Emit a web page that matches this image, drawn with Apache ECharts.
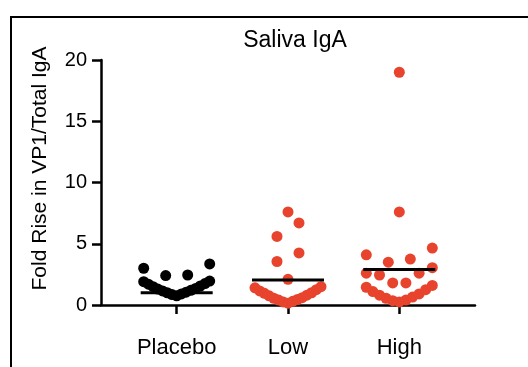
<!DOCTYPE html>
<html>
<head>
<meta charset="utf-8">
<script src="https://cdn.jsdelivr.net/npm/echarts@6/dist/echarts.min.js"></script>
<style>
  html, body { margin: 0; padding: 0; background: #fff; }
  #chart { width: 528px; height: 367px; }
</style>
</head>
<body>
<div id="chart"></div>
<script>
// Dose groups and the fold rise measured for each subject
const groups = ['Placebo', 'Low', 'High'];
const placeboValues = [0.75, 0.85, 0.9, 1.0, 1.05, 1.15, 1.2, 1.3, 1.35, 1.5, 1.55, 1.7, 1.75, 1.9, 1.95,
                       2.4, 2.45, 3.0, 3.35];
const lowValues = [0.15, 0.25, 0.3, 0.4, 0.45, 0.55, 0.6, 0.75, 0.8, 0.95, 1.0, 1.15, 1.25, 1.4, 1.5,
                   2.1, 3.55, 4.25, 5.6, 6.7, 7.6];
const highValues = [0.25, 0.35, 0.4, 0.55, 0.65, 0.8, 0.9, 1.1, 1.25, 1.45, 1.6,
                    1.8, 1.8, 2.45, 2.6, 2.6, 3.05, 3.5, 3.75, 4.1, 4.65, 7.6, 19];
// Group mean drawn as a horizontal bar
const groupMeans = [1.0, 2.04, 2.9];
const yTicks = [0, 5, 10, 15, 20];
const chartTitle = 'Saliva IgA';
const yAxisName = 'Fold Rise in VP1/Total IgA';

const W = 528, H = 367;
const GRID = { left: 101, right: 53, top: 60, bottom: 62 };
const X_MIN = -0.68, X_MAX = 2.68;
const Y_MIN = yTicks[0], Y_MAX = yTicks[yTicks.length - 1];
const pxPerX = (W - GRID.left - GRID.right) / (X_MAX - X_MIN);
const pxPerY = (H - GRID.top - GRID.bottom) / (Y_MAX - Y_MIN);

// Column scatter: points are grouped into rows of similar value, and each row
// is fanned out sideways, lowest value in the middle, alternating left/right.
function spread(values, groupIndex) {
  const sorted = values.slice().sort((a, b) => a - b);
  const rowSpan = 17 / pxPerY;
  const halfWidth = 33, maxGap = 22;
  const out = [];
  let i = 0;
  while (i < sorted.length) {
    const start = sorted[i];
    const row = [];
    while (i < sorted.length && sorted[i] < start + rowSpan) { row.push(sorted[i]); i++; }
    const n = row.length;
    const gap = n > 1 ? Math.min(maxGap, 2 * halfWidth / (n - 1)) : 0;
    row.forEach((v, k) => {
      let slot;
      if (n % 2) {
        slot = k === 0 ? 0 : (k % 2 ? -Math.ceil(k / 2) : k / 2);
      } else {
        const r = Math.floor(k / 2) + 0.5;
        slot = k % 2 === 0 ? -r : r;
      }
      out.push([groupIndex + slot * gap / pxPerX, v]);
    });
  }
  return out;
}

const FONT = "'Liberation Sans', Arial, Helvetica, sans-serif";
const RED = '#e8432d';
const groupCenters = groups.map((g, i) => i);

const chart = echarts.init(document.getElementById('chart'), null, { renderer: 'canvas' });
chart.setOption({
  animation: false,
  backgroundColor: '#fff',
  title: {
    text: chartTitle,
    left: 290,
    top: 24,
    textAlign: 'center',
    textStyle: { fontFamily: FONT, fontSize: 23, fontWeight: 'normal', color: '#000' }
  },
  graphic: [{
    type: 'rect',
    shape: { x: 11, y: 17, width: 600, height: 420 },
    style: { fill: 'none', stroke: '#000', lineWidth: 2 },
    silent: true
  }],
  grid: { left: GRID.left, right: GRID.right, top: GRID.top, bottom: GRID.bottom, containLabel: false },
  xAxis: {
    type: 'value',
    min: X_MIN,
    max: X_MAX,
    splitLine: { show: false },
    axisLine: { show: true, onZero: false, lineStyle: { color: '#000', width: 2.5 } },
    axisTick: { show: true, customValues: groupCenters, length: 9, lineStyle: { color: '#000', width: 2.5 } },
    axisLabel: {
      customValues: groupCenters,
      formatter: v => groups[Math.round(v)],
      fontFamily: FONT, fontSize: 22, color: '#000', margin: 32
    }
  },
  yAxis: {
    type: 'value',
    min: Y_MIN,
    max: Y_MAX,
    interval: 5,
    name: yAxisName,
    nameLocation: 'middle',
    nameGap: 50,
    nameTextStyle: { fontFamily: FONT, fontSize: 21, color: '#000', padding: [0, 0, 0, 28] },
    splitLine: { show: false },
    axisLine: { show: true, onZero: false, lineStyle: { color: '#000', width: 2.5 } },
    axisTick: { show: true, length: 9, lineStyle: { color: '#000', width: 2.5 } },
    axisLabel: { fontFamily: FONT, fontSize: 20, color: '#000', margin: 14 }
  },
  series: [
    { type: 'scatter', name: groups[0], data: spread(placeboValues, 0), symbolSize: 11,
      itemStyle: { color: '#000', opacity: 1 }, z: 2 },
    { type: 'scatter', name: groups[1], data: spread(lowValues, 1), symbolSize: 11,
      itemStyle: { color: RED, opacity: 1 }, z: 2 },
    { type: 'scatter', name: groups[2], data: spread(highValues, 2), symbolSize: 11,
      itemStyle: { color: RED, opacity: 1 }, z: 2 },
    { type: 'scatter', name: 'Mean', data: groupMeans.map((m, i) => [i, m]),
      symbol: 'rect', symbolSize: [72, 3], itemStyle: { color: '#000', opacity: 1 }, z: 5 }
  ]
});
</script>
</body>
</html>
